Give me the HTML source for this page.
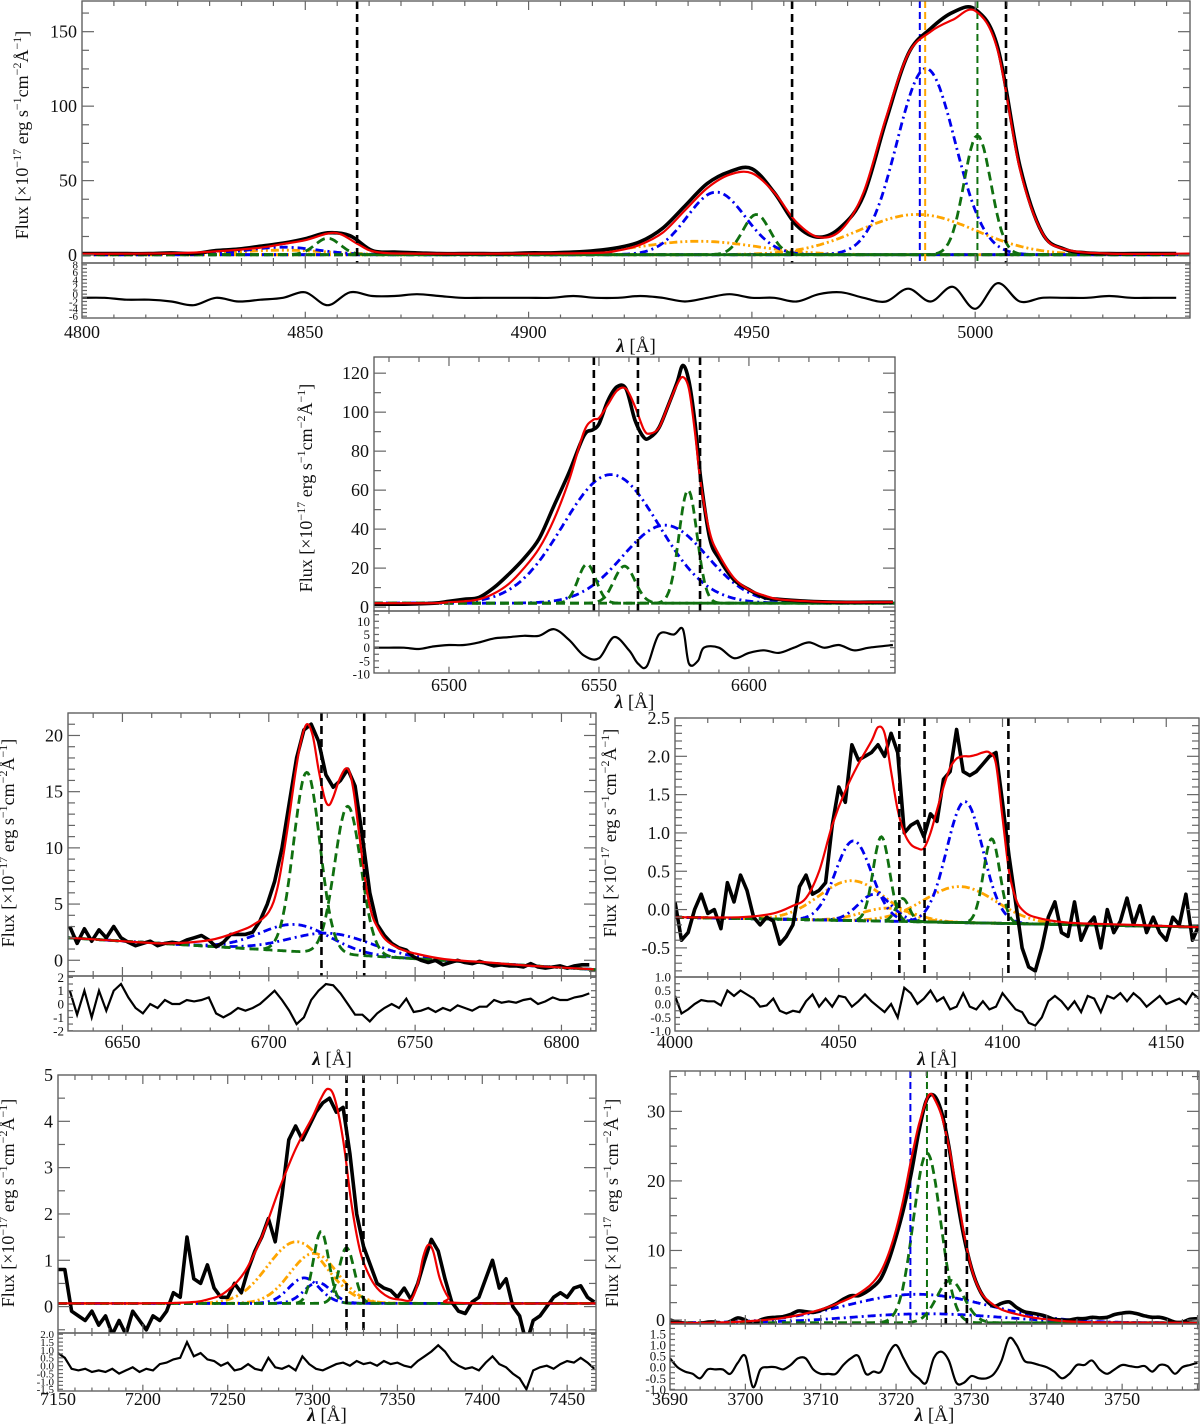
<!DOCTYPE html>
<html><head><meta charset="utf-8"><title>Emission line fits</title>
<style>
html,body{margin:0;padding:0;background:#fff;}
svg{display:block;}
text{font-family:"Liberation Serif",serif;fill:#111;}
</style></head>
<body>
<svg id="fig" xmlns="http://www.w3.org/2000/svg" width="1200" height="1424" viewBox="0 0 1200 1424"></svg>
<script>
// ===== Panel 1: Hbeta + [OIII] =====
const p1BlackStart = 4800, p1BlackStep = 5;
const p1Black = [1,1,1,1,1.5,1,3,4,6,8,11,15,13,3,2,1.5,1,1,1,1,1.5,1.5,2,3,5,9,18,33,48,56,58,42,20,12,19,40,90,135,152,163,165,140,60,15,4,1.5,1,1,1,1];
const p1RedWl = [4800,4820,4830,4840,4845,4850,4855,4858,4862,4866,4875,4900,4915,4920,4925,4930,4935,4940,4945,4950,4955,4960,4965,4970,4975,4980,4985,4990,4995,5000,5005,5010,5015,5020,5030,5048];
const p1Red = [0.8,1.2,2.5,5,7.5,10,14.5,14,7,2,1,1,1.5,3,7,15,30,45,54,55,42,22,12,17,42,92,135,150,158,164,138,58,15,4,1,1];
const p1ResStart = 4800, p1ResStep = 5;
const p1Res = [-1,-1,-1.5,-1.5,-2,-3,-1,-2,-1.5,-1,0.5,-3,0.5,-0.5,-0.5,0,-0.5,-1,-1,-1,-1,-1,-0.5,-1,-1,-0.5,-1,-2,-1,0,-1,-1,-2,0,0.5,-1,-2,1.5,-2,2,-4,3,-2,-1,-1,-1,-0.5,-1,-1,-1];
const p1Blue = [[4845,5,8],[4942,42,6.5],[4989,125,6.5]];
const p1Green = [[4855,11,2.8],[4951,27,3],[5000.5,80,3]];
const p1Orange = [[4845,3,10],[4938,9,13],[4987,27,13]];
const p1VLines = [4861.6,4959,5006.9];

// ===== Panel 2: Halpha + [NII] =====
const p2BlackWl = [6475,6485,6495,6500,6505,6510,6515,6520,6525,6530,6535,6540,6545,6548,6550,6553,6556,6559,6562,6565,6567,6570,6573,6576,6578,6580,6582,6584,6587,6590,6595,6600,6605,6610,6620,6630,6640,6648];
const p2Black = [1.5,1.5,2,3,4,5,10,17,25,35,52,69,88,91,94,106,113,112,96,87,87,92,103,115,124,116,95,65,35,25,14,9,5,4,3,2.5,2.5,2.5];
const p2Red = [2,2,2,2.5,3,4,7,12,20,30,45,65,90,96,97,104,111,112,103,91,89,92,103,114,118,112,90,63,38,27,15,9,6,4,3,2.5,2.5,2.5];
const p2ResWl = [6475,6480,6485,6490,6495,6500,6505,6510,6515,6520,6525,6530,6535,6540,6545,6550,6555,6560,6563,6566,6570,6575,6578,6580,6583,6585,6590,6595,6600,6605,6610,6615,6620,6625,6630,6635,6640,6648];
const p2Res = [0,0,0,-0.5,0.5,1,1,2,3.5,4,4.5,4.5,7,3,-3,-4,4,-1,-6,-7,5,5,7,-6,-5,0,0,-4,-2,-1,-2,0,2,0,1,-1,0,1];
const p2Blue = [[6554,66,16],[6572,40,14]];
const p2Green = [[6546,20,3],[6558.5,19,3.5],[6579.7,58,3]];
const p2VLines = [6548.3,6563,6583.7];

// ===== Panel 3: [SII] =====
const p3BlackStart = 6632, p3BlackStep = 2.5;
const p3Black = [3,1.5,2.8,1.7,2.7,2,3,2,1.6,1.3,1.5,1.7,1.3,1.5,1.6,1.5,1.8,2,2.2,1.8,1.2,1.6,2.3,2.3,2.3,2.5,3.5,5,7,10,14,18,20.5,21,19.5,16.5,15.4,16,17,15.5,11,6,3.2,2.2,1.5,1.1,0.9,0.3,0,-0.2,0,-0.4,-0.2,0,-0.2,-0.3,-0.1,-0.3,-0.5,-0.4,-0.5,-0.5,-0.6,-0.3,-0.6,-0.7,-0.6,-0.5,-0.7,-0.5,-0.4,-0.4];
const p3RedWl = [6632,6650,6665,6680,6690,6695,6700,6703,6706,6709,6711,6713,6715,6717,6719,6720.5,6722,6724,6726,6727.5,6729,6731,6733,6735,6737,6740,6745,6750,6760,6775,6790,6811];
const p3Red = [2,1.7,1.5,1.8,2.6,3.2,4.3,6.5,11,16.5,19.5,21,20,17,14.5,13.8,14.5,16,17,16.8,15,11,7,4.3,3,1.8,1,0.6,0.1,-0.2,-0.5,-0.8];
const p3ResStart = 6632, p3ResStep = 2.5;
const p3Res = [1,-0.8,1,-1,1,-0.5,1,1.5,0.5,-0.3,-0.7,0,-0.3,0.3,0,0,0.3,0.2,0.3,0.5,-0.7,-1,-0.7,-0.3,-0.5,-0.3,0,0.5,1,0.3,-0.5,-1.5,-1,0.3,1,1.5,1.4,0.8,0,-0.8,-0.8,-1.3,-0.7,-0.3,0,-0.3,0.4,-0.6,-0.5,-0.3,-0.6,-0.3,-0.5,-0.1,-0.3,-0.5,-0.2,-0.2,0.3,0.1,0.2,0.1,0.3,0.4,0,0.2,0.5,0.3,0.3,0.5,0.6,0.8];
const p3Blue = [[6709,2.4,12],[6721,1.8,14]];
const p3Green = [[6713,16,4.5],[6727,13.2,4.5]];
const p3VLines = [6718,6732.6];

// ===== Panel 4 =====
const p4BlackStart = 4000, p4BlackStep = 2;
const p4Black = [0.1,-0.4,-0.3,0,0.2,-0.05,0,-0.25,0.35,0.1,0.45,0.25,-0.1,-0.2,-0.1,-0.15,-0.45,-0.35,-0.2,0.3,0.45,0.2,0.25,0.35,1.1,1.6,1.4,2.15,1.95,2.0,2.05,2.15,2.0,2.3,2.05,1.0,1.1,1.15,0.95,1.25,1.15,1.7,1.8,2.35,1.8,1.75,1.8,1.9,2.0,2.05,1.4,0.7,0.1,-0.5,-0.75,-0.8,-0.5,-0.1,0.1,-0.3,-0.35,0.1,-0.4,-0.2,-0.1,-0.5,0,-0.3,-0.15,0.15,-0.2,0.05,-0.3,-0.1,-0.3,-0.4,-0.1,-0.2,0.2,-0.4,-0.2];
const p4RedWl = [4000,4020,4030,4036,4040,4044,4048,4052,4056,4060,4062,4064,4066,4068,4070,4072,4074,4076,4078,4080,4082,4084,4086,4088,4090,4092,4094,4096,4098,4100,4102,4104,4106,4110,4120,4140,4160];
const p4Red = [-0.1,-0.1,-0.05,0.05,0.15,0.5,1.1,1.55,1.9,2.2,2.38,2.3,1.8,1.3,1.0,0.85,0.8,0.8,1.0,1.3,1.6,1.85,1.97,2.0,2.0,2.02,2.05,2.05,1.9,1.2,0.5,0.15,0.0,-0.1,-0.17,-0.2,-0.23];
const p4ResStart = 4000, p4ResStep = 2;
const p4Res = [0.3,-0.35,-0.2,0,0.15,0.1,0.1,-0.05,0.5,0.3,0.5,0.35,0.2,-0.1,-0.05,0.2,-0.25,-0.35,-0.25,-0.3,0.1,0.35,-0.1,0.2,-0.1,0.3,0.25,-0.1,0.1,0.35,0.1,-0.1,-0.3,0,-0.5,0.6,0.4,0,0.2,0.5,0.1,0.25,-0.2,-0.1,0.4,-0.1,-0.2,0.1,-0.2,-0.1,0.4,0.1,-0.2,-0.3,-0.7,-0.8,-0.5,0.1,0.3,0.1,-0.2,0.1,-0.3,0.3,0.2,-0.3,0.3,0.2,0.4,0.1,0.4,0.2,-0.1,0.1,0.3,0,0.1,0.2,0,0.4,0.2];
const p4Blue = [[4054.5,1.04,5.5],[4061,0.35,5],[4088.5,1.58,5.5]];
const p4Green = [[4063,1.1,2.5],[4069.5,0.3,2],[4096.7,1.1,2.5]];
const p4Orange = [[4054,0.52,10],[4065,0.17,8],[4087,0.47,11]];
const p4VLines = [4068.5,4076.2,4101.8];

// ===== Panel 5 =====
const p5BlackStart = 7150, p5BlackStep = 4;
const p5Black = [0.8,0.8,-0.1,-0.2,-0.3,-0.1,-0.4,-0.2,-0.6,-0.3,-0.6,-0.1,-0.3,-0.5,-0.2,-0.3,-0.1,0.3,0.2,1.5,0.6,0.5,0.9,0.4,0.2,0.2,0.5,0.3,0.8,1.2,1.5,1.9,1.4,2.4,3.6,3.9,3.6,3.9,4.2,4.4,4.5,4.2,4.3,3.3,2.0,1.3,0.9,0.5,0.4,0.35,0.2,0.4,0.15,0.5,1.0,1.45,1.2,0.6,0.1,-0.1,-0.15,0.1,0.2,0.6,1.0,0.4,0.6,0.0,-0.2,-0.8,-0.3,-0.2,0,0.2,0.3,0.2,0.4,0.45,0.2,0.1];
const p5RedWl = [7150,7220,7240,7250,7260,7270,7280,7290,7300,7305,7309,7313,7318,7323,7328,7333,7338,7345,7352,7358,7362,7365,7368,7371,7375,7380,7385,7467];
const p5Red = [0.07,0.08,0.17,0.35,0.75,1.5,2.5,3.4,4.1,4.5,4.7,4.5,3.6,2.2,1.2,0.7,0.4,0.2,0.15,0.15,0.5,1.05,1.33,1.2,0.6,0.2,0.08,0.07];
const p5ResStart = 7150, p5ResStep = 4;
const p5Res = [0.8,0.5,-0.2,-0.3,-0.2,-0.4,-0.3,-0.4,-0.2,-0.5,-0.3,-0.1,-0.4,-0.2,-0.3,0.1,0.2,0.4,0.5,1.5,0.6,0.8,0.4,0.3,0,0.2,-0.3,-0.2,0.1,-0.2,-0.3,0.5,-0.1,-0.2,0,-0.3,0.6,0.1,-0.2,-0.3,-0.1,0.1,0.2,0,0.3,0.1,0.2,0,0.3,0.1,0.2,0,-0.1,0.3,0.6,0.9,1.3,0.9,0.3,0,-0.2,-0.1,-0.3,0.2,0.6,0.1,-0.1,-0.5,-0.8,-1.5,-0.3,-0.1,0,-0.2,0.1,0.3,0.2,0.5,0.2,-0.2];
const p5Blue = [[7295,0.55,9],[7303,0.45,8]];
const p5Green = [[7305,1.55,4.5],[7320,1.2,4.5]];
const p5Orange = [[7290.5,1.33,17],[7300.7,1.08,14]];
const p5VLines = [7320,7330];

// ===== Panel 6 =====
const p6BlackStart = 3690, p6BlackStep = 1;
const p6Black = [0,-0.3,-0.5,-0.7,-0.5,-0.3,-0.3,-0.5,-0.2,0.3,0,-0.6,0,0.3,0.4,0.5,0.8,1.3,1.2,1.1,1.4,1.8,2.3,3.0,3.5,3.5,4.0,4.8,6,8.5,12,16,21,27,31.5,32.3,30,25,18,12,7.5,4.5,2.8,2.0,2.4,2.6,1.8,1.2,1.0,0.8,0.5,0.1,0,0,0.2,0.2,0.4,0.3,0.4,0.8,1.0,1.1,0.9,0.6,0.4,0.4,0.1,-0.3,-0.3,0.1,0.2];
const p6RedWl = [3690,3695,3700,3705,3710,3714,3716,3717,3718,3719,3720,3721,3722,3723,3724,3724.5,3725,3726,3727,3728,3729,3730,3731,3732,3734,3737,3740,3745,3760];
const p6Red = [-0.4,-0.4,-0.2,0.3,1.5,3.2,4.5,5.5,7,9.5,13,17.5,23,28,31.5,32.5,32,29.5,25,19,12.5,7.5,4.5,3,1.5,0.6,0.1,-0.3,-0.4];
const p6ResStart = 3690, p6ResStep = 1;
const p6Res = [0.4,0,-0.2,-0.3,-0.5,-0.1,-0.1,-0.1,-0.3,0.2,0.5,-0.9,-0.1,0,0,-0.1,0.1,0.4,0.4,-0.1,-0.3,-0.3,-0.3,0.1,0.4,0.5,-0.3,-0.2,-0.2,0.6,1.0,0.4,-0.2,-0.5,-0.7,0.4,0.7,0.3,-0.7,-0.7,-0.4,-0.5,-0.5,-0.3,0.3,1.3,1.0,0.3,0.2,0.1,0,-0.2,-0.5,-0.3,0.1,0.1,0.3,-0.1,-0.3,-0.1,0.1,0.05,0,0.05,-0.2,0.1,0.05,-0.3,0,0.1,0.2];
const p6Blue = [[3722.8,4.1,9.5],[3724,1.3,10]];
const p6Green = [[3724.1,24.4,1.8],[3727.2,6.1,1.8]];
const p6VLines = [3726.6,3729.4];

// ===== axis tick labels =====
const p1YTicks = [0,50,100,150], p1RTicks = [8,6,4,2,0,-2,-4,-6], p1XTicks = [4800,4850,4900,4950,5000];
const p2YTicks = [0,20,40,60,80,100,120], p2RTicks = [10,5,0,-5,-10], p2XTicks = [6500,6550,6600];
const p3YTicks = [0,5,10,15,20], p3RTicks = [2,1,0,-1,-2], p3XTicks = [6650,6700,6750,6800];
const p4YTicks = [-0.5,0,0.5,1,1.5,2,2.5], p4RTicks = [1,0.5,0,-0.5,-1], p4XTicks = [4000,4050,4100,4150];
const p5YTicks = [0,1,2,3,4,5], p5RTicks = [2,1.5,1,0.5,0,-0.5,-1,-1.5], p5XTicks = [7150,7200,7250,7300,7350,7400,7450];
const p6YTicks = [0,10,20,30], p6RTicks = [1.5,1,0.5,0,-0.5,-1], p6XTicks = [3690,3700,3710,3720,3730,3740,3750];

const NS = "http://www.w3.org/2000/svg";
const svg = document.getElementById('fig');
function mk(tag, parent){ const e = document.createElementNS(NS, tag); parent.appendChild(e); return e; }
function gauss(l,c,a,s){ return a*Math.exp(-(l-c)*(l-c)/(2*s*s)); }
function uniformWl(start, step, n){ const w=[]; for(let i=0;i<n;i++) w.push(start+i*step); return w; }
function linePath(pts){ return pts.map((p,i)=>(i?'L':'M')+p[0].toFixed(1)+','+p[1].toFixed(1)).join(''); }
function smoothPath(pts){
  let d='M'+pts[0][0].toFixed(1)+','+pts[0][1].toFixed(1);
  for(let i=0;i<pts.length-1;i++){
    const p0=pts[i-1]||pts[i], p1=pts[i], p2=pts[i+1], p3=pts[i+2]||p2;
    const c1=[p1[0]+(p2[0]-p0[0])/6, p1[1]+(p2[1]-p0[1])/6];
    const c2=[p2[0]-(p3[0]-p1[0])/6, p2[1]-(p3[1]-p1[1])/6];
    d+='C'+c1[0].toFixed(1)+','+c1[1].toFixed(1)+' '+c2[0].toFixed(1)+','+c2[1].toFixed(1)+' '+p2[0].toFixed(1)+','+p2[1].toFixed(1);
  }
  return d;
}
function fmt(v, dec){ return dec ? v.toFixed(dec) : String(v); }

let clipId = 0;
function drawPanel(P){
  const g = mk('g', svg);
  
  
  const X = l => P.x0 + (l-P.xmin)/(P.xmax-P.xmin)*(P.x1-P.x0);
  const Y = v => P.yb - (v-P.ymin)/(P.ymax-P.ymin)*(P.yb-P.yt);
  const R = v => P.rb - (v-P.rmin)/(P.rmax-P.rmin)*(P.rb-P.yb);
  const cont = l => P.c0 + P.c1*(l-P.xmin);

  const defs = mk('defs', g);
  const cm = mk('clipPath', defs); const cmid='c'+(clipId++); cm.setAttribute('id', cmid);
  const cmr = mk('rect', cm); cmr.setAttribute('x',P.x0); cmr.setAttribute('y',P.yt); cmr.setAttribute('width',P.x1-P.x0); cmr.setAttribute('height',P.yb-P.yt);
  const cr = mk('clipPath', defs); const crid='c'+(clipId++); cr.setAttribute('id', crid);
  const crr = mk('rect', cr); crr.setAttribute('x',P.x0); crr.setAttribute('y',P.yb); crr.setAttribute('width',P.x1-P.x0); crr.setAttribute('height',P.rb-P.yb);

  const mainG = mk('g', g); mainG.setAttribute('clip-path','url(#'+cmid+')');
  
  

  const styles = {
    blue:{color:'#0000ee', dash:'8,4,2,4', w:2.8},
    green:{color:'#107010', dash:'9,5', w:2.8},
    orange:{color:'#ffa500', dash:'8,3,2,3,2,3', w:2.8}
  };
  ['orange','blue','green'].forEach(kind=>{
    (P.comps[kind]||[]).forEach((cp, k)=>{
      const pts=[]; const n=500;
      for(let i=0;i<=n;i++){ const l=P.xmin+(P.xmax-P.xmin)*i/n; pts.push([X(l), Y(cont(l)+gauss(l,cp[0],cp[1],cp[2]))]); }
      const p = mk('path', mainG);
      p.setAttribute('d', linePath(pts));
      p.setAttribute('fill','none'); p.setAttribute('stroke', styles[kind].color);
      p.setAttribute('stroke-width', styles[kind].w); p.setAttribute('stroke-dasharray', styles[kind].dash);
      
      
    });
  });

  (P.vcol||[]).forEach(v=>{
    const ln = mk('line', mainG);
    ln.setAttribute('x1',X(v[0])); ln.setAttribute('x2',X(v[0])); ln.setAttribute('y1',P.yt); ln.setAttribute('y2',P.yb);
    ln.setAttribute('stroke', v[1]); ln.setAttribute('stroke-width', 2); ln.setAttribute('stroke-dasharray','7,4');
    
    
  });
  P.vlines.forEach(v=>{
    const ln = mk('line', g);
    ln.setAttribute('x1',X(v)); ln.setAttribute('x2',X(v)); ln.setAttribute('y1',P.yt); ln.setAttribute('y2',P.yb);
    ln.setAttribute('stroke', '#000'); ln.setAttribute('stroke-width', 2.6); ln.setAttribute('stroke-dasharray','8,5');
    
    
  });

  const bpts = P.blackWl.map((l,i)=>[X(l), Y(P.black[i])]);
  const bp = mk('path', mainG);
  bp.setAttribute('d', P.smooth ? smoothPath(bpts) : linePath(bpts));
  bp.setAttribute('fill','none'); bp.setAttribute('stroke','#000'); bp.setAttribute('stroke-width',3.6); bp.setAttribute('stroke-linejoin','round');
  
  

  const rpts = P.redWl.map((l,i)=>[X(l), Y(P.red[i])]);
  const rp = mk('path', mainG);
  rp.setAttribute('d', smoothPath(rpts));
  rp.setAttribute('fill','none'); rp.setAttribute('stroke','#ee0000'); rp.setAttribute('stroke-width',2.2);
  
  

  const resG = mk('g', g); resG.setAttribute('clip-path','url(#'+crid+')');
  const rsp = P.resWl.map((l,i)=>[X(l), R(P.res[i])]);
  const rs = mk('path', resG);
  rs.setAttribute('d', P.smooth ? smoothPath(rsp) : linePath(rsp));
  rs.setAttribute('fill','none'); rs.setAttribute('stroke','#000'); rs.setAttribute('stroke-width',2.2);
  
  

  [[P.yt,P.yb,'main-frame'],[P.yb,P.rb,'residual-frame']].forEach(f=>{
    const r = mk('rect', g);
    r.setAttribute('x',P.x0); r.setAttribute('y',f[0]); r.setAttribute('width',P.x1-P.x0); r.setAttribute('height',f[1]-f[0]);
    r.setAttribute('fill','none'); r.setAttribute('stroke','#555'); r.setAttribute('stroke-width',1.3);
    
    
  });

  const tk = mk('g', g);
  
  
  function tick(x1,y1,x2,y2){ const t=mk('line',tk); t.setAttribute('x1',x1);t.setAttribute('y1',y1);t.setAttribute('x2',x2);t.setAttribute('y2',y2);t.setAttribute('stroke','#666');t.setAttribute('stroke-width',1.2); }
  for(let l=Math.ceil(P.xmin/P.xminor)*P.xminor; l<=P.xmax+1e-6; l+=P.xminor){
    const major = Math.abs(l/P.xmajor-Math.round(l/P.xmajor))<1e-6;
    const len = major?9:5, x=X(l);
    tick(x,P.yt,x,P.yt+len); tick(x,P.yb,x,P.yb-len); tick(x,P.yb,x,P.yb+len*0.6); tick(x,P.rb,x,P.rb-len*0.7);
  }
  for(let v=Math.ceil(P.ymin/P.yminor)*P.yminor; v<=P.ymax+1e-6; v+=P.yminor){
    const major = Math.abs(v/P.ymajor-Math.round(v/P.ymajor))<1e-6;
    const len = major?12:7, y=Y(v);
    tick(P.x0,y,P.x0+len,y); tick(P.x1,y,P.x1-len,y);
  }
  for(let v=Math.ceil(P.rmin/P.rminor)*P.rminor; v<=P.rmax+1e-6; v+=P.rminor){
    const y=R(v); tick(P.x0,y,P.x0+5,y); tick(P.x1,y,P.x1-5,y);
  }

  P.xt.forEach(v=>{
    const t = mk('text', g); t.textContent = String(v);
    t.setAttribute('x', X(v)); t.setAttribute('y', P.xly); t.setAttribute('text-anchor','middle'); t.setAttribute('font-size',18);
    
    
  });
  P.yt_.forEach(v=>{
    const t = mk('text', g); t.textContent = fmt(v, P.ydec);
    t.setAttribute('x', P.x0-5); t.setAttribute('y', Y(v)+6); t.setAttribute('text-anchor','end'); t.setAttribute('font-size',18);
    
    
  });
  P.rt.forEach(v=>{
    const t = mk('text', g); t.textContent = fmt(v, P.rdec);
    t.setAttribute('x', P.x0-4); t.setAttribute('y', R(v)+P.rfs*0.35); t.setAttribute('text-anchor','end'); t.setAttribute('font-size',P.rfs);
    
    
  });
  const xl = mk('text', g);
  xl.setAttribute('x', (P.x0+P.x1)/2); xl.setAttribute('y', P.xty); xl.setAttribute('text-anchor','middle'); xl.setAttribute('font-size',19);
  xl.innerHTML = '<tspan font-style="italic" font-weight="bold">λ</tspan> [Å]';
  
  
  const yl = mk('text', g);
  yl.setAttribute('transform', 'translate('+(P.ylx+6)+','+P.yly+') rotate(-90)');
  yl.setAttribute('text-anchor','middle'); yl.setAttribute('font-size',18);
  yl.innerHTML = 'Flux [×10<tspan dy="-7" font-size="12">−17</tspan><tspan dy="7"> erg s</tspan><tspan dy="-7" font-size="12">−1</tspan><tspan dy="7">cm</tspan><tspan dy="-7" font-size="12">−2</tspan><tspan dy="7">Å</tspan><tspan dy="-7" font-size="12">−1</tspan><tspan dy="7">]</tspan>';
  
  
}

drawPanel({name:'panel-hbeta-oiii', x0:82,x1:1190,yt:1,yb:263,rb:318, xmin:4800,xmax:5048.1, ymin:-5.3,ymax:170.6, rmin:-6.5,rmax:8.5,
  c0:0.3,c1:0, smooth:true,
  blackWl:uniformWl(p1BlackStart,p1BlackStep,p1Black.length), black:p1Black, redWl:p1RedWl, red:p1Red,
  resWl:uniformWl(p1ResStart,p1ResStep,p1Res.length), res:p1Res,
  comps:{blue:p1Blue, green:p1Green, orange:p1Orange}, vlines:p1VLines,
  vcol:[[4987.6,'#0000ee'],[4988.8,'#ffa500'],[5000.5,'#107010']],
  xmajor:50,xminor:50/7, ymajor:50,yminor:12.5, rminor:1,
  xt:p1XTicks, yt_:p1YTicks, rt:p1RTicks, rdec:0, rfs:11, xly:338, xty:352, ylx:22, yly:135});

drawPanel({name:'panel-halpha-nii', x0:374,x1:895,yt:357,yb:611,rb:673, xmin:6475,xmax:6648.7, ymin:-2,ymax:128.3, rmin:-9.6,rmax:13.9,
  c0:2,c1:0, smooth:true,
  blackWl:p2BlackWl, black:p2Black, redWl:p2BlackWl, red:p2Red, resWl:p2ResWl, res:p2Res,
  comps:{blue:p2Blue, green:p2Green}, vlines:p2VLines,
  xmajor:50,xminor:10, ymajor:20,yminor:10, rminor:2.5,
  xt:p2XTicks, yt_:p2YTicks, rt:p2RTicks, rdec:0, rfs:13, xly:691, xty:708, ylx:306, yly:488});

drawPanel({name:'panel-sii', x0:68,x1:596,yt:713,yb:976,rb:1031, xmin:6631.4,xmax:6811.8, ymin:-1.4,ymax:22, rmin:-2.02,rmax:2.1,
  c0:2.0,c1:-0.0157, smooth:false,
  blackWl:uniformWl(p3BlackStart,p3BlackStep,p3Black.length), black:p3Black, redWl:p3RedWl, red:p3Red,
  resWl:uniformWl(p3ResStart,p3ResStep,p3Res.length), res:p3Res,
  comps:{blue:p3Blue, green:p3Green}, vlines:p3VLines,
  xmajor:50,xminor:10, ymajor:5,yminor:1, rminor:0.5,
  xt:p3XTicks, yt_:p3YTicks, rt:p3RTicks, rdec:0, rfs:13, xly:1048, xty:1065, ylx:8, yly:843});

drawPanel({name:'panel-sii-4070', x0:675,x1:1199,yt:718,yb:977,rb:1031, xmin:4000,xmax:4160, ymin:-0.88,ymax:2.5, rmin:-1,rmax:1,
  c0:-0.1,c1:-0.0008, smooth:false,
  blackWl:uniformWl(p4BlackStart,p4BlackStep,p4Black.length), black:p4Black, redWl:p4RedWl, red:p4Red,
  resWl:uniformWl(p4ResStart,p4ResStep,p4Res.length), res:p4Res,
  comps:{blue:p4Blue, green:p4Green, orange:p4Orange}, vlines:p4VLines,
  xmajor:50,xminor:10, ymajor:0.5,yminor:0.1, rminor:0.25,
  xt:p4XTicks, yt_:p4YTicks, ydec:1, rt:p4RTicks, rdec:1, rfs:13, xly:1048, xty:1065, ylx:610, yly:833});

drawPanel({name:'panel-oii-7325', x0:58,x1:596,yt:1075,yb:1333,rb:1391, xmin:7150,xmax:7467, ymin:-0.57,ymax:5.0, rmin:-1.61,rmax:2.08,
  c0:0.07,c1:0, smooth:false,
  blackWl:uniformWl(p5BlackStart,p5BlackStep,p5Black.length), black:p5Black, redWl:p5RedWl, red:p5Red,
  resWl:uniformWl(p5ResStart,p5ResStep,p5Res.length), res:p5Res,
  comps:{blue:p5Blue, green:p5Green, orange:p5Orange}, vlines:p5VLines,
  xmajor:50,xminor:10, ymajor:1,yminor:0.5, rminor:0.25,
  xt:p5XTicks, yt_:p5YTicks, rt:p5RTicks, rdec:1, rfs:11, xly:1405, xty:1421, ylx:8, yly:1203});

drawPanel({name:'panel-oii-3727', x0:670,x1:1199,yt:1071,yb:1324,rb:1390, xmin:3690,xmax:3760.2, ymin:-0.57,ymax:35.8, rmin:-1.03,rmax:1.95,
  c0:-0.4,c1:0, smooth:true,
  blackWl:uniformWl(p6BlackStart,p6BlackStep,p6Black.length), black:p6Black, redWl:p6RedWl, red:p6Red,
  resWl:uniformWl(p6ResStart,p6ResStep,p6Res.length), res:p6Res,
  comps:{blue:p6Blue, green:p6Green}, vlines:p6VLines,
  vcol:[[3721.9,'#0000ee'],[3724.1,'#107010']],
  xmajor:10,xminor:2, ymajor:10,yminor:2.5, rminor:0.25,
  xt:p6XTicks, yt_:p6YTicks, rt:p6RTicks, rdec:1, rfs:13, xly:1405, xty:1421, ylx:612, yly:1203});
</script>
</body></html>
